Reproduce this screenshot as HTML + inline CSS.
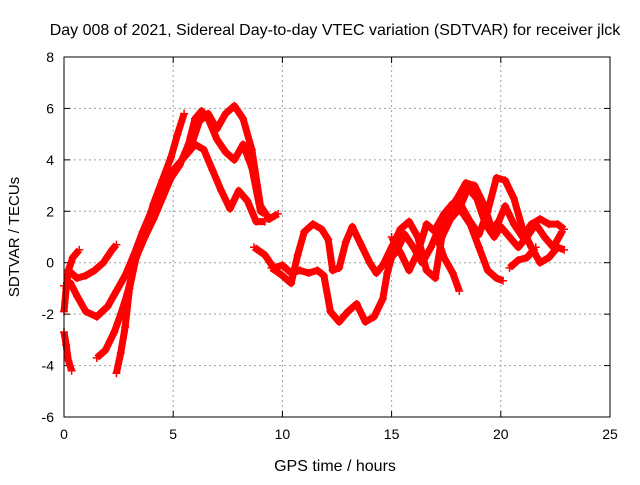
<!DOCTYPE html>
<html><head><meta charset="utf-8"><style>
body{margin:0;background:#fff}
svg text{font-family:"Liberation Sans",sans-serif;font-size:14px;fill:#000}
</style></head><body>
<svg id="chart" width="640" height="480" xmlns="http://www.w3.org/2000/svg">
<rect width="640" height="480" fill="#fff"/>
<text x="335" y="35" text-anchor="middle" style="font-size:16px">Day 008 of 2021, Sidereal Day-to-day VTEC variation (SDTVAR) for receiver jlck</text>
<g id="grid"></g>
<g id="axes"></g>
<g id="series"></g>
<rect x="64" y="57" width="546" height="360" fill="none" stroke="#000" stroke-width="1"/>
<text x="335" y="471" text-anchor="middle" style="font-size:16px">GPS time / hours</text>
<text transform="translate(19,237) rotate(-90)" text-anchor="middle" style="font-size:15px">SDTVAR / TECUs</text>
</svg>
<script>
const xTicks=[0,5,10,15,20,25];
const yTicks=[-6,-4,-2,0,2,4,6,8];
const trackA=[[0,-2.7],[0.1,-3.2],[0.2,-3.8],[0.35,-4.2]];
const trackB=[[0,-1.9],[0.1,-1.0],[0.2,-0.3],[0.4,0.2],[0.7,0.5]];
const trackC=[[0,-0.9],[0.3,-0.8],[0.6,-1.3],[1.0,-1.9],[1.5,-2.1],[2.0,-1.7],[2.4,-1.1],[2.8,-0.5],[3.2,0.3],[3.6,1.2],[4.0,2.0],[4.4,2.8],[4.8,3.4],[5.2,3.8],[5.6,4.2],[6.0,4.6],[6.4,4.4],[6.8,3.6],[7.2,2.8],[7.6,2.1],[8.0,2.8],[8.4,2.4],[8.8,1.6],[9.2,1.6]];
const trackD=[[0.2,-0.3],[0.6,-0.6],[1.0,-0.5],[1.4,-0.3],[1.8,0.0],[2.2,0.5],[2.4,0.7]];
const trackE=[[1.5,-3.7],[1.9,-3.4],[2.3,-2.7],[2.6,-2.0],[2.9,-1.2],[3.3,0.2],[3.7,1.2],[4.1,2.3],[4.5,3.2],[4.9,4.1],[5.2,5.0],[5.5,5.8]];
const trackF=[[2.4,-4.3],[2.6,-3.5],[2.8,-2.5],[3.0,-1.0],[3.3,0.2],[3.7,1.0],[4.1,1.7],[4.5,2.5],[4.9,3.3],[5.3,3.8],[5.7,4.6],[6.0,5.6],[6.3,5.9],[6.6,5.6],[7.0,4.8],[7.4,4.3],[7.8,4.0],[8.2,4.6],[8.6,3.7],[9.0,2.0],[9.2,1.9]];
const trackG=[[5.8,4.5],[6.2,5.5],[6.6,5.8],[7.0,5.2],[7.4,5.8],[7.8,6.1],[8.2,5.6],[8.6,4.4],[9.0,2.2],[9.4,1.7],[9.8,1.9]];
const trackH=[[8.7,0.6],[9.2,0.3],[9.6,-0.2],[10.0,-0.1],[10.4,-0.4],[10.8,-0.3],[11.2,-0.4],[11.6,-0.3],[11.9,-0.5],[12.2,-1.9],[12.6,-2.3],[13.0,-1.9],[13.4,-1.6],[13.8,-2.3],[14.2,-2.1],[14.6,-1.4],[14.8,-0.4],[15.0,0.2]];
const trackI=[[9.5,-0.2],[10.0,-0.5],[10.4,-0.8],[10.7,0.3],[11.0,1.2],[11.4,1.5],[11.8,1.3],[12.1,0.9],[12.3,-0.3],[12.6,-0.2],[12.9,0.8],[13.2,1.4],[13.6,0.7],[14.0,0.0],[14.3,-0.4],[14.6,-0.1],[15.0,0.6],[15.4,1.3],[15.8,1.6],[16.2,1.0],[16.6,-0.3],[17.0,-0.6],[17.3,1.0],[17.7,1.7],[18.1,2.1],[18.5,2.9],[18.9,2.5],[19.3,1.5],[19.7,1.0],[20.0,1.4],[20.4,1.0],[20.8,0.6],[21.2,1.0],[21.6,1.5],[22.0,1.0],[22.4,0.6],[22.8,1.2]];
const trackJ=[[14.7,0.0],[15.2,0.4],[15.6,1.1],[16.0,0.6],[16.4,0.0],[16.8,0.6],[17.2,1.4],[17.6,2.0],[18.0,2.5],[18.4,3.1],[18.8,3.0],[19.2,2.3],[19.6,1.3],[19.9,1.6],[20.2,2.2],[20.6,1.5],[21.0,1.0],[21.4,1.5],[21.8,1.7],[22.2,1.5],[22.6,1.5],[22.9,1.3]];
const trackK=[[15.0,1.0],[15.4,0.4],[15.8,-0.3],[16.2,0.4],[16.6,1.5],[17.0,1.2],[17.4,0.2],[17.8,-0.4],[18.1,-1.1]];
const trackL=[[17.0,1.3],[17.4,1.9],[17.8,2.3],[18.2,2.0],[18.6,1.5],[19.0,0.6],[19.4,-0.3],[19.8,-0.6],[20.1,-0.7]];
const trackM=[[18.2,2.2],[18.6,1.6],[19.0,1.1],[19.4,2.0],[19.8,3.3],[20.2,3.2],[20.6,2.5],[21.0,1.3],[21.4,0.6],[21.8,0.0],[22.2,0.2],[22.6,0.6],[22.9,0.5]];
const trackN=[[20.4,-0.2],[20.8,0.1],[21.2,0.2],[21.6,0.6]];
const tracks=[trackA,trackB,trackC,trackD,trackE,trackF,trackG,trackH,trackI,trackJ,trackK,trackL,trackM,trackN];

const NS='http://www.w3.org/2000/svg';
const X0=64,X1=610,Y0=417,Y1=57,xmin=0,xmax=25,ymin=-6,ymax=8;
const sx=v=>X0+(v-xmin)/(xmax-xmin)*(X1-X0);
const sy=v=>Y0-(v-ymin)/(ymax-ymin)*(Y0-Y1);
function mk(tag,attrs,parent){const e=document.createElementNS(NS,tag);for(const k in attrs)e.setAttribute(k,attrs[k]);parent.appendChild(e);return e;}
const grid=document.getElementById('grid'),axes=document.getElementById('axes'),ser=document.getElementById('series');
xTicks.forEach(t=>{
  const x=sx(t);
  if(t>xmin&&t<xmax){const g=mk('line',{x1:x,x2:x,y1:Y0,y2:Y1,stroke:'#a0a0a0','stroke-dasharray':'2,3'},grid);
  
  }
  mk('line',{x1:x,x2:x,y1:Y0,y2:Y0-6,stroke:'#000'},axes);
  mk('line',{x1:x,x2:x,y1:Y1,y2:Y1+6,stroke:'#000'},axes);
  const l=mk('text',{x:x,y:Y0+22,'text-anchor':'middle'},axes);l.textContent=t;
  
  
});
yTicks.forEach(t=>{
  const y=sy(t);
  if(t>ymin&&t<ymax){const g=mk('line',{x1:X0,x2:X1,y1:y,y2:y,stroke:'#a0a0a0','stroke-dasharray':'2,3'},grid);
  
  }
  mk('line',{x1:X0,x2:X0+6,y1:y,y2:y,stroke:'#000'},axes);
  mk('line',{x1:X1,x2:X1-6,y1:y,y2:y,stroke:'#000'},axes);
  const l=mk('text',{x:X0-10,y:y+5,'text-anchor':'end'},axes);l.textContent=t;
  
  
});
tracks.forEach((tr)=>{
  const p=mk('polyline',{points:tr.map(d=>sx(d[0])+','+sy(d[1])).join(' '),fill:'none',stroke:'#ff0000','stroke-width':7,'stroke-linejoin':'round'},ser);
  
  
  tr.forEach(d=>{
    const x=sx(d[0]),y=sy(d[1]);
    const m=mk('path',{d:`M${x-4},${y}H${x+4}M${x},${y-4}V${y+4}`,stroke:'#ff0000','stroke-width':1.5},ser);
    
    
  });
});
</script>
</body></html>
